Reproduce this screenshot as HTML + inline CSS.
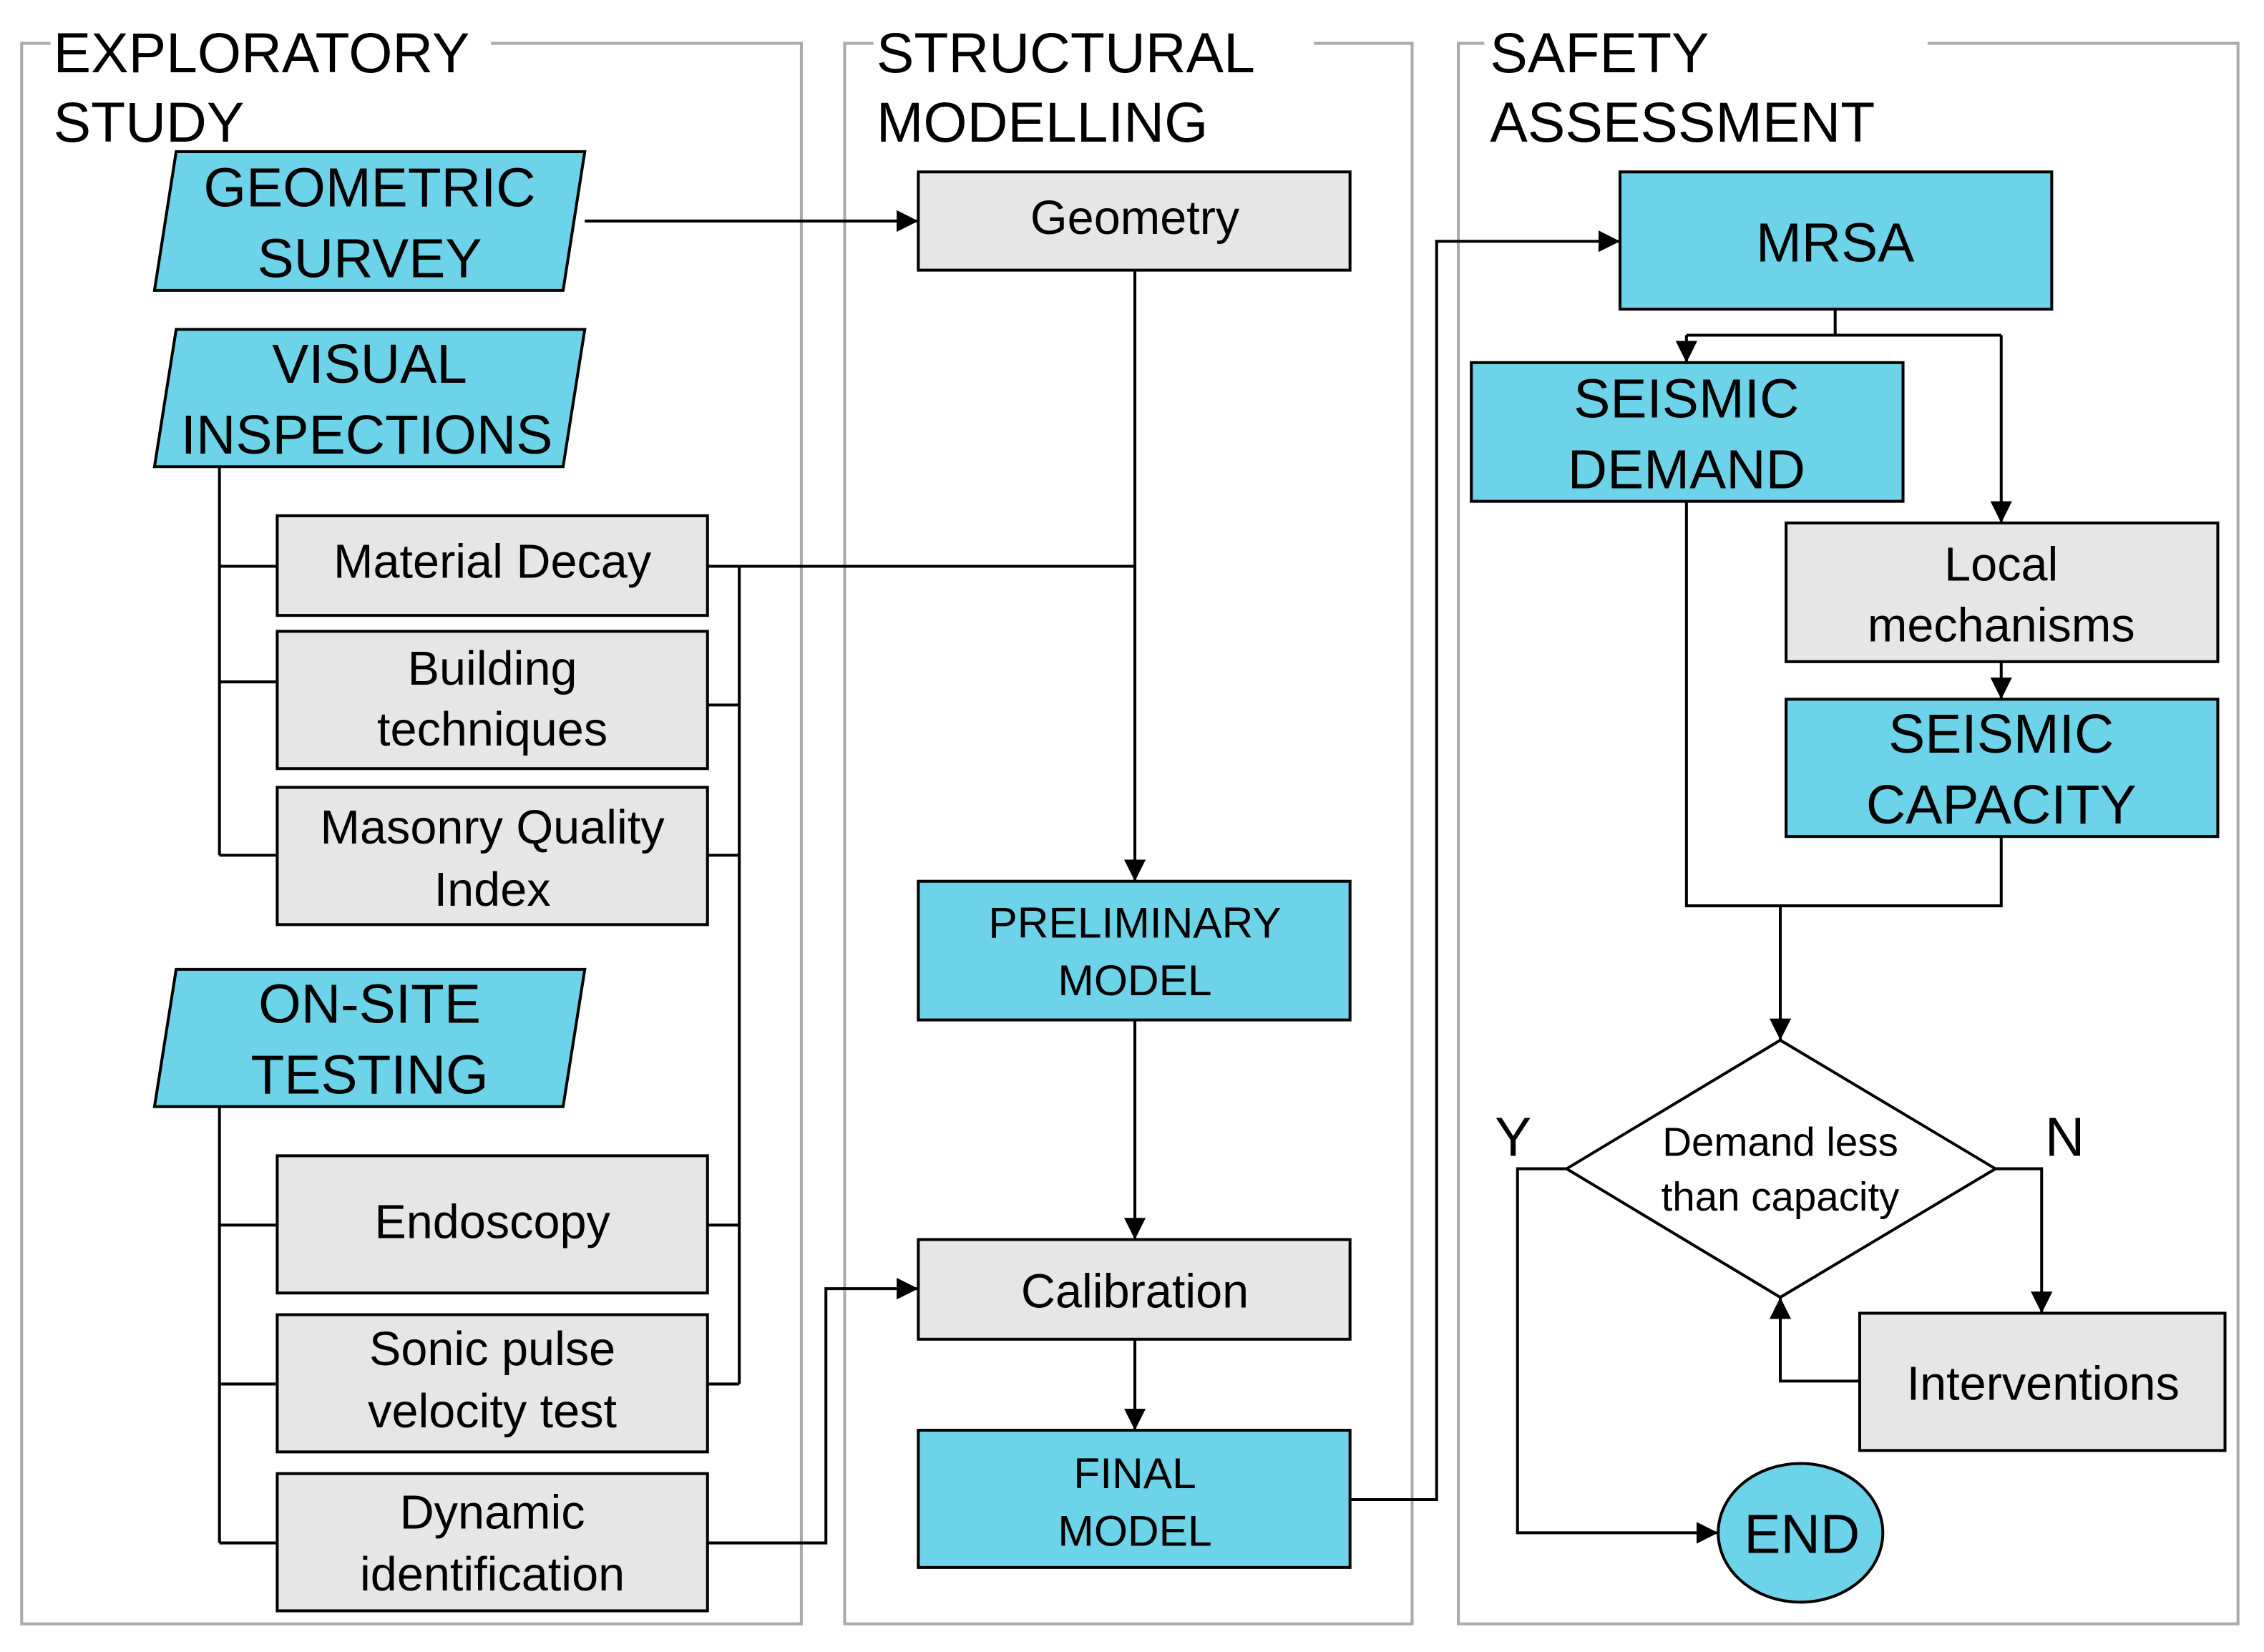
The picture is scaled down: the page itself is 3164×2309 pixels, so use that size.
<!DOCTYPE html>
<html><head><meta charset="utf-8"><style>
html,body{margin:0;padding:0;background:#fff}
svg{display:block}
text{font-family:"Liberation Sans",Arial,sans-serif;fill:#000}
</style></head><body>
<svg width="3164" height="2309" viewBox="0 0 1568 1143.5" preserveAspectRatio="none" xmlns="http://www.w3.org/2000/svg">
<defs>
<marker id="b" viewBox="0 0 10 10" refX="10" refY="5" markerWidth="15" markerHeight="15" markerUnits="userSpaceOnUse" orient="auto"><path d="M0,0 L10,5 L0,10 z" fill="#000"/></marker>
</defs>
<g fill="none" stroke="#aaa" stroke-width="2">
<path d="M35,30 H15 V1124 H555 V30 H340"/>
<path d="M605,30 H585 V1124 H978 V30 H910"/>
<path d="M1028,30 H1010 V1124 H1550 V30 H1335"/>
</g>
<g font-size="39">
<text x="37" y="50">EXPLORATORY</text><text x="37" y="98">STUDY</text>
<text x="607" y="50">STRUCTURAL</text><text x="607" y="98">MODELLING</text>
<text x="1032" y="50">SAFETY</text><text x="1032" y="98">ASSESSMENT</text>
</g>
<g fill="none" stroke="#000" stroke-width="2">
<path d="M405,153 H636" marker-end="url(#b)"/>
<path d="M152,323 V592 M152,392 H192 M152,472 H192 M152,592 H192"/>
<path d="M152,766 V1068 M152,848 H192 M152,958 H192 M152,1068 H192"/>
<path d="M490,392 H786 M512,392 V958 M490,488 H512 M490,592 H512 M490,848 H512 M490,958 H512"/>
<path d="M786,187 V610" marker-end="url(#b)"/>
<path d="M786,706 V858" marker-end="url(#b)"/>
<path d="M786,927 V990" marker-end="url(#b)"/>
<path d="M490,1068 H572 V892 H636" marker-end="url(#b)"/>
<path d="M935,1038 H995 V167 H1122" marker-end="url(#b)"/>
<path d="M1271,214 V232 M1168,232 H1386"/>
<path d="M1168,232 V251" marker-end="url(#b)"/>
<path d="M1386,232 V362" marker-end="url(#b)"/>
<path d="M1386,458 V484" marker-end="url(#b)"/>
<path d="M1168,347 V627 H1386 V579 M1233,627 V720" marker-end="url(#b)"/>
<path d="M1085,809 H1051 V1061 H1190" marker-end="url(#b)"/>
<path d="M1382,809 H1414 V909" marker-end="url(#b)"/>
<path d="M1288,956 H1233 V898" marker-end="url(#b)"/>
</g>
<g fill="#6dd3e8" stroke="#000" stroke-width="2">
<polygon points="122,105 405,105 390,201 107,201"/>
<polygon points="122,228 405,228 390,323 107,323"/>
<polygon points="122,671 405,671 390,766 107,766"/>
</g>
<g font-size="38" text-anchor="middle">
<text x="256" y="143">GEOMETRIC</text><text x="256" y="192">SURVEY</text>
<text x="256" y="265">VISUAL</text><text x="254" y="314">INSPECTIONS</text>
<text x="256" y="708">ON-SITE</text><text x="256" y="757">TESTING</text>
</g>
<g fill="#e6e6e6" stroke="#000" stroke-width="2">
<rect x="192" y="357" width="298" height="69"/>
<rect x="192" y="437" width="298" height="95"/>
<rect x="192" y="545" width="298" height="95"/>
<rect x="192" y="800" width="298" height="95"/>
<rect x="192" y="910" width="298" height="95"/>
<rect x="192" y="1020" width="298" height="95"/>
<rect x="636" y="119" width="299" height="68"/>
<rect x="636" y="858" width="299" height="69"/>
<rect x="1237" y="362" width="299" height="96"/>
<rect x="1288" y="909" width="253" height="95"/>
</g>
<g fill="#6dd3e8" stroke="#000" stroke-width="2">
<rect x="636" y="610" width="299" height="96"/>
<rect x="636" y="990" width="299" height="95"/>
<rect x="1122" y="119" width="299" height="95"/>
<rect x="1019" y="251" width="299" height="96"/>
<rect x="1237" y="484" width="299" height="95"/>
<ellipse cx="1247" cy="1061" rx="57" ry="48"/>
</g>
<polygon points="1233,720 1382,809 1233,898 1085,809" fill="#fff" stroke="#000" stroke-width="2"/>
<g font-size="33" text-anchor="middle">
<text x="341" y="400">Material Decay</text>
<text x="341" y="474">Building</text><text x="341" y="516">techniques</text>
<text x="341" y="584">Masonry Quality</text><text x="341" y="627">Index</text>
<text x="341" y="857">Endoscopy</text>
<text x="341" y="945">Sonic pulse</text><text x="341" y="988">velocity test</text>
<text x="341" y="1058">Dynamic</text><text x="341" y="1101">identification</text>
<text x="786" y="162">Geometry</text>
<text x="786" y="905">Calibration</text>
<text x="1386" y="402">Local</text><text x="1386" y="444">mechanisms</text>
<text x="1415" y="969">Interventions</text>
</g>
<g font-size="30" text-anchor="middle">
<text x="786" y="649">PRELIMINARY</text><text x="786" y="689">MODEL</text>
<text x="786" y="1030">FINAL</text><text x="786" y="1070">MODEL</text>
</g>
<g font-size="28" text-anchor="middle">
<text x="1233" y="800">Demand less</text><text x="1233" y="838">than capacity</text>
</g>
<g font-size="38" text-anchor="middle">
<text x="1271" y="181">MRSA</text>
<text x="1168" y="289">SEISMIC</text><text x="1168" y="338">DEMAND</text>
<text x="1386" y="521">SEISMIC</text><text x="1386" y="570">CAPACITY</text>
<text x="1248" y="1075">END</text>
<text x="1048" y="800">Y</text><text x="1430" y="800">N</text>
</g>
</svg>
</body></html>
